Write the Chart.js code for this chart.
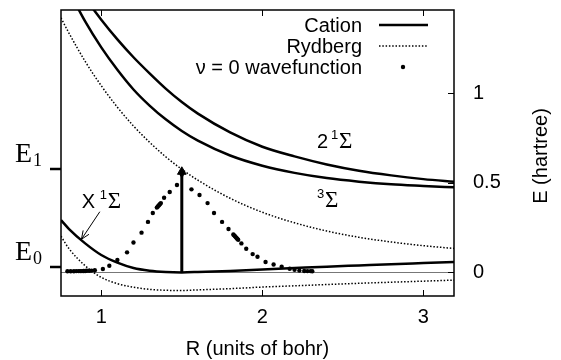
<!DOCTYPE html>
<html lang="en">
<head>
<meta charset="UTF-8">
<title>Potential energy curves</title>
<script src="https://cdn.jsdelivr.net/npm/chart.js@4.4.1/dist/chart.umd.min.js"></script>
<style>
  html, body { margin: 0; padding: 0; background: #fff; }
</style>
</head>
<body>
<canvas id="pec" width="561" height="360"></canvas>
<script>
// bond length grid (bohr) shared by the potential curves
const rGrid = [0.75, 0.8, 0.9, 1.0, 1.1, 1.2, 1.3, 1.4, 1.5, 1.6, 1.8, 2.0, 2.2, 2.4, 2.6, 2.8, 3.0, 3.2];

// energies in hartree (null = above the frame)
const cationUpper  = [null, null, 1.53, 1.41, 1.30, 1.20, 1.11, 1.025, 0.95, 0.885, 0.78, 0.70, 0.646, 0.601, 0.566, 0.54, 0.519, 0.503];
const cationLower  = [null, 1.57, 1.40, 1.255, 1.13, 1.02, 0.93, 0.853, 0.788, 0.734, 0.651, 0.594, 0.554, 0.525, 0.505, 0.49, 0.481, 0.473];
const groundX      = [0.29, 0.24, 0.16, 0.095, 0.052, 0.022, 0.007, 0.0, -0.002, 0.0, 0.006, 0.014, 0.022, 0.03, 0.037, 0.044, 0.05, 0.056];
const rydbergUpper = [1.42, 1.334, 1.177, 1.041, 0.921, 0.816, 0.725, 0.644, 0.574, 0.513, 0.412, 0.334, 0.275, 0.229, 0.194, 0.168, 0.147, 0.131];
const rydbergLower = [0.20, 0.13, 0.035, -0.03, -0.065, -0.085, -0.097, -0.102, -0.103, -0.1, -0.093, -0.084, -0.077, -0.07, -0.063, -0.057, -0.051, -0.045];

// v = 0 wavefunction samples
const waveR = [0.79, 0.81, 0.83, 0.845, 0.86, 0.87, 0.88, 0.89, 0.90, 0.91, 0.925, 0.94, 0.96, 1.01, 1.05, 1.10, 1.16, 1.20, 1.25, 1.29,
               1.32, 1.345, 1.35, 1.355, 1.36, 1.365, 1.37, 1.39, 1.425, 1.47, 1.50, 1.56, 1.61, 1.66, 1.70, 1.75, 1.79, 1.82, 1.825, 1.83,
               1.835, 1.84, 1.845, 1.85, 1.87, 1.90, 1.94, 1.97, 2.02, 2.07, 2.12, 2.17, 2.20, 2.23, 2.26, 2.28, 2.30, 2.31];
const waveE = [0.004, 0.004, 0.004, 0.005, 0.005, 0.005, 0.005, 0.006, 0.006, 0.007, 0.007, 0.008, 0.010, 0.017, 0.035, 0.067, 0.11, 0.165, 0.22, 0.28,
               0.33, 0.36, 0.365, 0.37, 0.375, 0.38, 0.385, 0.415, 0.447, 0.486, 0.545, 0.462, 0.43, 0.385, 0.33, 0.28, 0.24, 0.21, 0.205, 0.2,
               0.195, 0.19, 0.185, 0.18, 0.16, 0.13, 0.10, 0.085, 0.056, 0.042, 0.03, 0.018, 0.012, 0.008, 0.006, 0.005, 0.005, 0.004];

// vertical excitation arrow
const transitionR = [1.5, 1.5];
const transitionE = [0, 0.56];

// axes
const xTicks = [1, 2, 3];
const yTicks = [0, 0.5, 1];
const xRange = [0.75, 3.19];
const yRange = [-0.134, 1.464];

// E0 / E1 marks on the left side
const levelE = [0.028, 0.575];
const levelSub = ['0', '1'];

// state labels: prefix, superscript, position (R, E of baseline)
const stateLabels = [
  { prefix: 'X', sup: '1', r: 0.879, e: 0.357, supX: 18, sigX: 26 },
  { prefix: '2', sup: '1', r: 2.339, e: 0.693, supX: 14, sigX: 22 },
  { prefix: '',  sup: '3', r: 2.339, e: 0.363, supX: 0,  sigX: 8 }
];
const pointerFrom = { r: 0.991, e: 0.337 };
const pointerTo = { r: 0.877, e: 0.183 };

const SANS = '"Liberation Sans", Arial, sans-serif';
const SERIF = '"Liberation Serif", "Times New Roman", serif';

const pts = (xs, ys) => xs.map((x, i) => ({ x: x, y: ys[i] }));

const solid = { borderColor: '#000', borderWidth: 2.5, pointRadius: 0, cubicInterpolationMode: 'monotone', fill: false };
const dotted = { ...solid, borderWidth: 1.5, borderDash: [1.5, 1.8] };

const decorations = {
  id: 'decorations',
  beforeDatasetsDraw(chart) {
    const { ctx, chartArea: a, scales: { y } } = chart;
    ctx.save();
    ctx.strokeStyle = '#777';
    ctx.lineWidth = 1;
    const y0 = Math.round(y.getPixelForValue(0)) + 0.5;
    ctx.beginPath();
    ctx.moveTo(a.left, y0);
    ctx.lineTo(a.right, y0);
    ctx.stroke();
    ctx.restore();
  },
  afterDraw(chart) {
    const { ctx, chartArea: a, scales: { x, y } } = chart;
    ctx.save();
    ctx.fillStyle = '#000';
    ctx.strokeStyle = '#000';

    // frame
    ctx.lineWidth = 1.5;
    ctx.strokeRect(a.left, a.top, a.right - a.left, a.bottom - a.top);

    // inward ticks
    ctx.lineWidth = 1;
    ctx.beginPath();
    xTicks.forEach(v => {
      const px = Math.round(x.getPixelForValue(v)) + 0.5;
      ctx.moveTo(px, a.bottom); ctx.lineTo(px, a.bottom - 6);
      ctx.moveTo(px, a.top); ctx.lineTo(px, a.top + 6);
    });
    yTicks.forEach(v => {
      const py = Math.round(y.getPixelForValue(v)) + 0.5;
      ctx.moveTo(a.right, py); ctx.lineTo(a.right - 6, py);
    });
    ctx.stroke();

    // E0, E1 marks
    ctx.textAlign = 'left';
    ctx.textBaseline = 'alphabetic';
    levelE.forEach((v, i) => {
      const py = Math.round(y.getPixelForValue(v));
      ctx.lineWidth = 2.5;
      ctx.beginPath();
      ctx.moveTo(a.left - 11, py);
      ctx.lineTo(a.left, py);
      ctx.stroke();
      ctx.font = '28px ' + SERIF;
      ctx.fillText('E', a.left - 46, py - 7);
      ctx.font = '18px ' + SERIF;
      ctx.fillText(levelSub[i], a.left - 28, py - 3);
    });

    // state labels
    stateLabels.forEach(s => {
      const px = x.getPixelForValue(s.r);
      const py = y.getPixelForValue(s.e);
      if (s.prefix) {
        ctx.font = '20px ' + SANS;
        ctx.fillText(s.prefix, px, py);
      }
      ctx.font = '13px ' + SANS;
      ctx.fillText(s.sup, px + s.supX, py - 9);
      ctx.font = '23px ' + SERIF;
      ctx.fillText('\u03A3', px + s.sigX, py);
    });

    // pointer arrow to the ground state
    const fx = x.getPixelForValue(pointerFrom.r), fy = y.getPixelForValue(pointerFrom.e);
    const tx = x.getPixelForValue(pointerTo.r), ty = y.getPixelForValue(pointerTo.e);
    const ang = Math.atan2(ty - fy, tx - fx);
    ctx.lineWidth = 1;
    ctx.beginPath();
    ctx.moveTo(fx, fy);
    ctx.lineTo(tx, ty);
    ctx.moveTo(tx - 9 * Math.cos(ang - 0.4), ty - 9 * Math.sin(ang - 0.4));
    ctx.lineTo(tx, ty);
    ctx.lineTo(tx - 9 * Math.cos(ang + 0.4), ty - 9 * Math.sin(ang + 0.4));
    ctx.stroke();

    // legend
    const legend = chart.data.datasets.filter(d => d.inLegend);
    legend.forEach((d, i) => {
      const ly = a.top + 15 + i * 21;
      ctx.font = '20px ' + SANS;
      ctx.textAlign = 'right';
      ctx.textBaseline = 'middle';
      ctx.fillText(d.label, a.right - 92, ly + 1);
      if (d.showLine === false) {
        ctx.beginPath();
        ctx.arc(a.right - 51, ly, 2.2, 0, Math.PI * 2);
        ctx.fill();
      } else {
        ctx.lineWidth = d.borderWidth;
        ctx.setLineDash(d.borderDash || []);
        ctx.beginPath();
        ctx.moveTo(a.right - 75, ly);
        ctx.lineTo(a.right - 26, ly);
        ctx.stroke();
        ctx.setLineDash([]);
      }
    });

    // axis titles
    ctx.font = '20px ' + SANS;
    ctx.textAlign = 'center';
    ctx.textBaseline = 'alphabetic';
    ctx.fillText('R (units of bohr)', (a.left + a.right) / 2, 355);
    ctx.translate(541, (a.top + a.bottom) / 2 + 3);
    ctx.rotate(-Math.PI / 2);
    ctx.textBaseline = 'middle';
    ctx.fillText('E (hartree)', 0, 0);
    ctx.restore();
  }
};

new Chart(document.getElementById('pec'), {
  type: 'line',
  data: {
    datasets: [
      { label: 'Cation', inLegend: true, data: pts(rGrid, cationUpper), ...solid },
      { label: 'Rydberg', inLegend: true, data: pts(rGrid, rydbergUpper), ...dotted },
      { label: '\u03BD = 0 wavefunction', inLegend: true, data: pts(waveR, waveE), showLine: false,
        pointRadius: 2.2, pointBackgroundColor: '#000', pointBorderWidth: 0 },
      { label: 'Cation', data: pts(rGrid, cationLower), ...solid },
      { label: 'X', data: pts(rGrid, groundX), ...solid },
      { label: 'Rydberg', data: pts(rGrid, rydbergLower), ...dotted },
      { label: 'transition', data: pts(transitionR, transitionE), borderColor: '#000', borderWidth: 3,
        pointStyle: 'triangle', pointRadius: [0, 5], pointBackgroundColor: '#000', pointBorderColor: '#000', pointBorderWidth: 1 }
    ]
  },
  options: {
    responsive: false,
    animation: false,
    layout: { padding: { left: 61, top: 10, right: 0, bottom: 0 } },
    plugins: { legend: { display: false }, tooltip: { enabled: false } },
    scales: {
      x: {
        type: 'linear', min: xRange[0], max: xRange[1],
        grid: { display: false, drawTicks: false }, border: { display: false },
        afterBuildTicks: s => { s.ticks = xTicks.map(v => ({ value: v })); },
        afterFit: s => { s.height = 64; s.paddingLeft = 0; s.paddingRight = 0; },
        ticks: { padding: 9, color: '#000', font: { family: SANS, size: 20 }, callback: v => String(v) }
      },
      y: {
        type: 'linear', position: 'right', min: yRange[0], max: yRange[1],
        grid: { display: false, drawTicks: false }, border: { display: false },
        afterBuildTicks: s => { s.ticks = yTicks.map(v => ({ value: v })); },
        afterFit: s => { s.width = 107; s.paddingTop = 0; s.paddingBottom = 0; },
        ticks: { padding: 19, color: '#000', font: { family: SANS, size: 20 }, callback: v => String(v) }
      }
    }
  },
  plugins: [decorations]
});
</script>
</body>
</html>
